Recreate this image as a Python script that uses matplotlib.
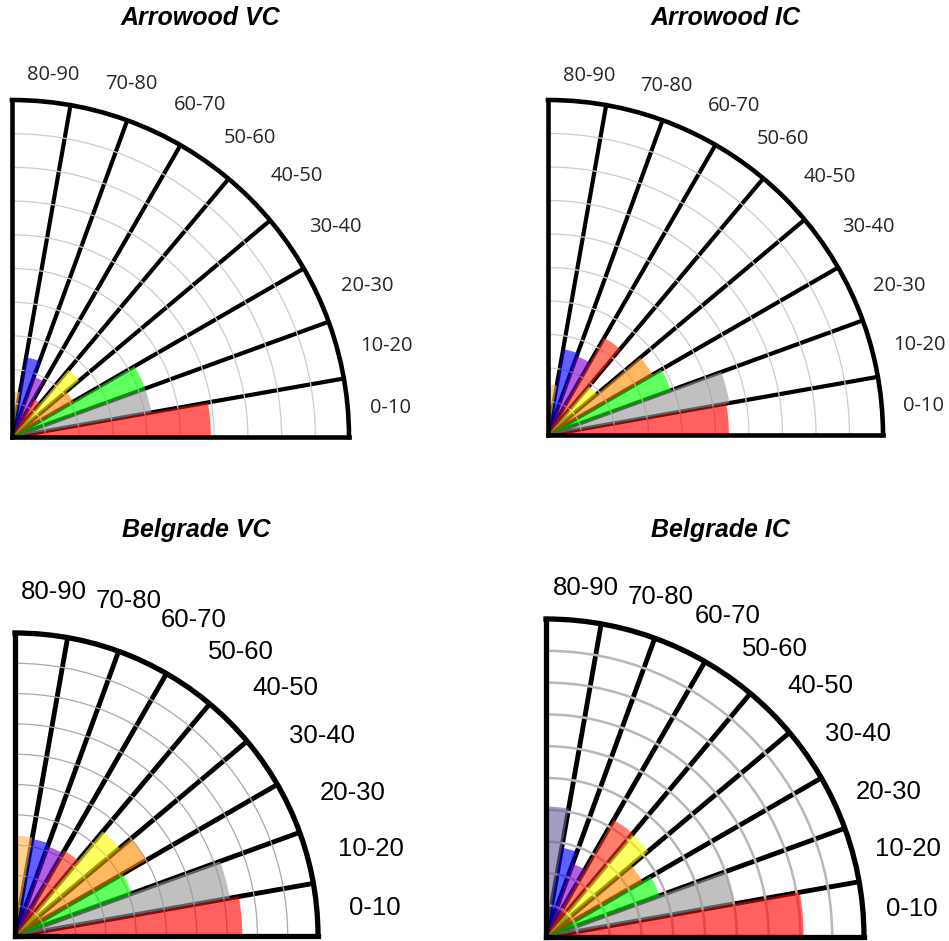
import numpy as np
import matplotlib.pyplot as plt

W, H = 949, 941

# angle classes (degrees) and the value of each wedge, 0-10 first
sectors = ['0-10', '10-20', '20-30', '30-40', '40-50', '50-60', '60-70', '70-80', '80-90']
titles = ['Arrowood VC', 'Arrowood IC', 'Belgrade VC', 'Belgrade IC']

arrowood_vc = [5.9, 4.2, 4.2, 2.1, 2.6, 1.3, 1.9, 2.4, 1.35]
arrowood_ic = [5.4, 5.5, 3.9, 3.6, 1.9, 3.35, 2.5, 2.6, 1.5]
belgrade_vc = [7.5, 7.2, 4.1, 5.0, 4.5, 3.25, 3.15, 3.25, 3.3]
belgrade_ic = [8.1, 6.0, 3.8, 3.5, 4.2, 4.25, 2.45, 2.85, 4.1]

colors = ['#ff0000', '#9a9a9a', '#00ff00', '#ff8c00', '#ffff00',
          '#ff2a10', '#8000cd', '#0000ff', '#ffb34c']
colors_bic = colors[:8] + ['#6c5fa0']

# panel geometry: origin x, origin y (pixels from top-left), radius in pixels
panels = [
    dict(vals=arrowood_vc, cols=colors, cx=12, cy=437, R=337, tx=200, ty=18,
         font='Open Sans', fs=14.5, tc='#262626', lab_r=1.145,
         ring='#cccccc', ring_lw=0.9, spoke_lw=3.0),
    dict(vals=arrowood_ic, cols=colors, cx=548, cy=435, R=335, tx=726, ty=18,
         font='Open Sans', fs=14.5, tc='#262626', lab_r=1.14,
         ring='#cccccc', ring_lw=0.9, spoke_lw=3.0),
    dict(vals=belgrade_vc, cols=colors, cx=15, cy=936, R=303, tx=196, ty=530,
         font='Liberation Sans', fs=18.5, tc='black', lab_r=1.21,
         ring='#a8a8a8', ring_lw=0.9, spoke_lw=3.5),
    dict(vals=belgrade_ic, cols=colors_bic, cx=546, cy=937, R=318, tx=720, ty=530,
         font='Liberation Sans', fs=18.5, tc='black', lab_r=1.17,
         ring='#b8b8b8', ring_lw=1.8, spoke_lw=3.5),
]

label_deg = [4.4, 13.7, 23.0, 33.0, 42.5, 51.5, 60.5, 71.3, 83.5]
label_scale = [0.985, 1.0, 1.0, 1.0, 1.0, 0.99, 0.99, 0.965, 0.945]

fig = plt.figure(figsize=(W / 100, H / 100), dpi=100)

theta = np.deg2rad(np.arange(5, 90, 10))
width = np.deg2rad(10)

for title, p in zip(titles, panels):
    rect = [p['cx'] / W, (H - p['cy']) / H, p['R'] / W, p['R'] / H]
    ax = fig.add_axes(rect, projection='polar')
    ax.set_thetamin(0)
    ax.set_thetamax(90)
    ax.set_ylim(0, 10)
    ax.set_axisbelow(True)

    ax.bar(theta, p['vals'], width=width, color=p['cols'], alpha=0.62,
           edgecolor='none', align='center', zorder=2)

    ax.set_rgrids(np.arange(1, 10), labels=[''] * 9)
    ax.set_thetagrids(np.arange(10, 90, 10), labels=[''] * 8)
    ax.yaxis.grid(True, color=p['ring'], lw=p['ring_lw'])
    ax.xaxis.grid(True, color='black', lw=p['spoke_lw'])
    ax.tick_params(length=0)
    for side in ['polar', 'start', 'end']:
        ax.spines[side].set_linewidth(p['spoke_lw'] + 0.3)
        ax.spines[side].set_color('black')
    ax.spines['inner'].set_visible(False)

    for lab, deg, s in zip(sectors, label_deg, label_scale):
        ax.text(np.deg2rad(deg), 10 * p['lab_r'] * s, lab, ha='center', va='center',
                fontsize=p['fs'], family=p['font'], color=p['tc'], clip_on=False)

    fig.text(p['tx'] / W, 1 - p['ty'] / H, title, ha='center', va='center',
             fontsize=18, fontweight='bold', fontstyle='italic',
             family='Liberation Sans')

fig.savefig('out.png', dpi=100)
